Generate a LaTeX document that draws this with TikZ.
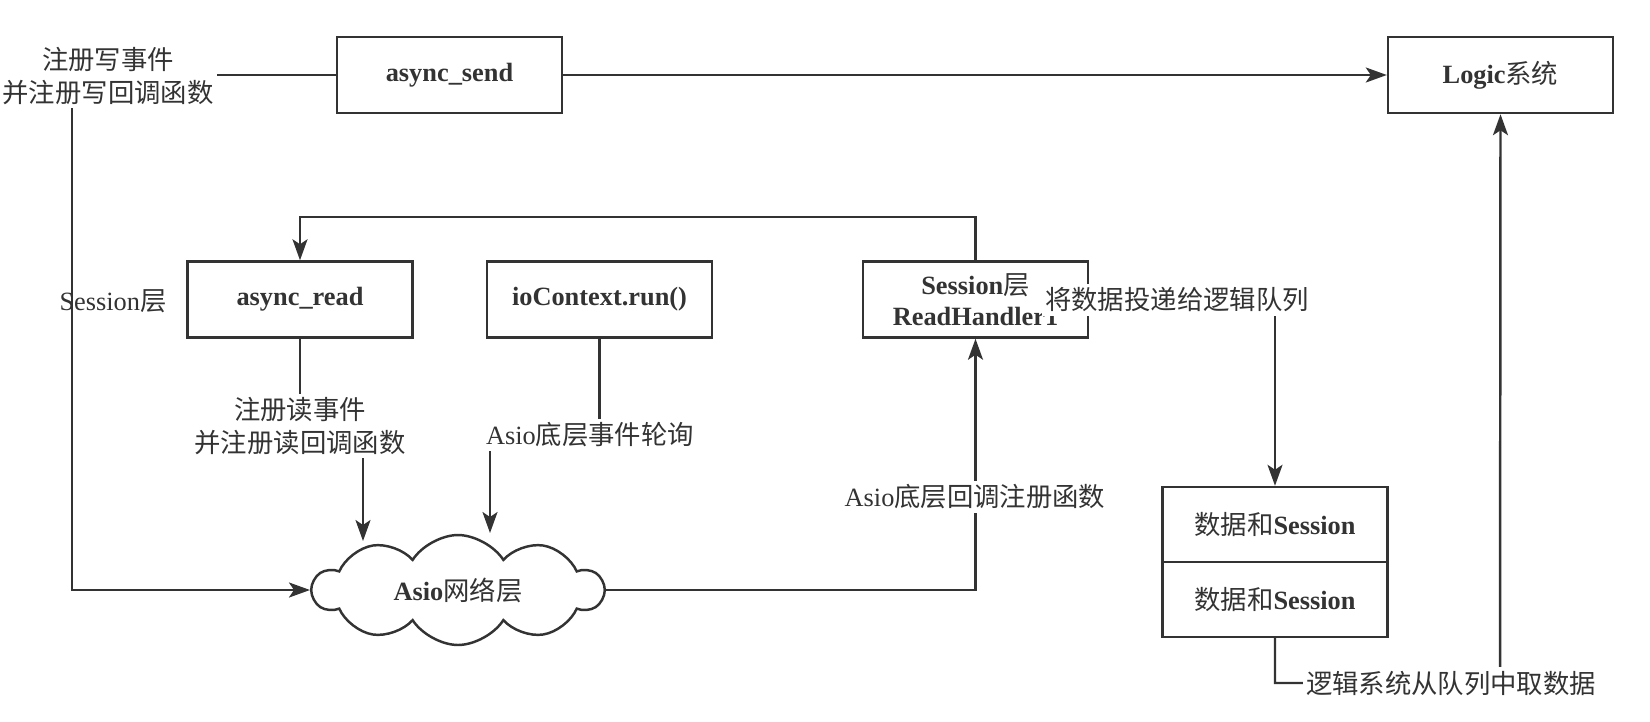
\documentclass[tikz,border=0pt]{standalone}
\usepackage{fontspec}
\setmainfont{Liberation Serif}
\newfontfamily\cjk{Noto Sans CJK SC}
\usetikzlibrary{shapes.symbols,arrows.meta}

\definecolor{linegray}{HTML}{333333}
\tikzstyle{block}=[draw=linegray,line width=1.4pt,minimum width=4.5cm,
    minimum height=1.52cm,inner sep=0pt,align=center,text=linegray,
    font=\fontsize{15}{18}\selectfont\bfseries]
\tikzstyle{net cloud}=[cloud,cloud puffs=10,cloud puff arc=115,aspect=2.6,
    shape border rotate=18,draw=linegray,line width=1.4pt,minimum width=5.8cm,
    minimum height=2.2cm,inner sep=0pt,text=linegray,
    font=\fontsize{15}{18}\selectfont\bfseries]
\tikzstyle{edge label}=[fill=white,inner sep=2pt,align=center,text=linegray,
    font=\fontsize{15}{18.7}\selectfont]
\tikzstyle{connector}=[draw=linegray,line width=1.4pt]
\tikzstyle{flow}=[connector,-{Stealth[length=0.42cm,width=0.3cm,inset=0.1cm]}]
\newcommand{\zh}[1]{{\cjk\mdseries #1}}
\newcommand{\block}[4][]{
    \node[block,#1] at (#2) (#3) {#4};
}
\newcommand{\edgelabel}[3]{\node[edge label] at (#1) (#2) {#3};}

\begin{document}
\begin{tikzpicture}[x=0.02cm,y=-0.02cm]
    \useasboundingbox (0,0) rectangle (1650,721);
    \block{449.5,75}{send}{async\_send}
    \block{1500.5,75}{logic}{Logic\zh{系统}}
    \block{300,299.5}{read}{async\_read}
    \block{599.5,299.5}{run}{ioContext.run()}
    \block{975.5,299.5}{handler}{Session\zh{层}\\ReadHandler1}
    \block[minimum height=1.5cm]{1275,524.5}{queueA}{\zh{数据和}Session}
    \block[minimum height=1.5cm]{1275,599.5}{queueB}{\zh{数据和}Session}
    \node[net cloud] at (458,590) (net) {Asio\zh{网络层}};
    \node[text=linegray,font=\fontsize{15}{18}\selectfont] at (113,301) (session) {Session\zh{层}};

    \coordinate (wbend) at (72,300);
    \coordinate (loop) at (640,217);
    \coordinate (readbend) at (330,426);
    \coordinate (readin) at (363,541);
    \coordinate (runbend) at (545,435);
    \coordinate (runin) at (490,533);
    \coordinate (pullbend) at (1500,683);

    \draw[flow] (send.west) -| (wbend) |- (net.west);
    \draw[flow] (send.east) -- (logic.west);
    \draw[flow] (handler.north) |- (loop) -| (read.north);
    \draw[flow] (read.south) |- (readbend) -| (readin);
    \draw[flow] (run.south) |- (runbend) -| (runin);
    \draw[flow] (net.east) -| (handler.south);
    \draw[flow] (handler.east) -| (queueA.north);
    \draw[flow] (queueB.south) |- (pullbend) -- (logic.south);

    \edgelabel{108,76}{writelabel}{\zh{注册写事件}\\\zh{并注册写回调函数}}
    \edgelabel{300,426}{readlabel}{\zh{注册读事件}\\\zh{并注册读回调函数}}
    \edgelabel{590,435}{runlabel}{Asio\zh{底层事件轮询}}
    \edgelabel{975,497}{cblabel}{Asio\zh{底层回调注册函数}}
    \edgelabel{1177,300}{pushlabel}{\zh{将数据投递给逻辑队列}}
    \edgelabel{1451,683}{pulllabel}{\zh{逻辑系统从队列中取数据}}
\end{tikzpicture}
\end{document}
